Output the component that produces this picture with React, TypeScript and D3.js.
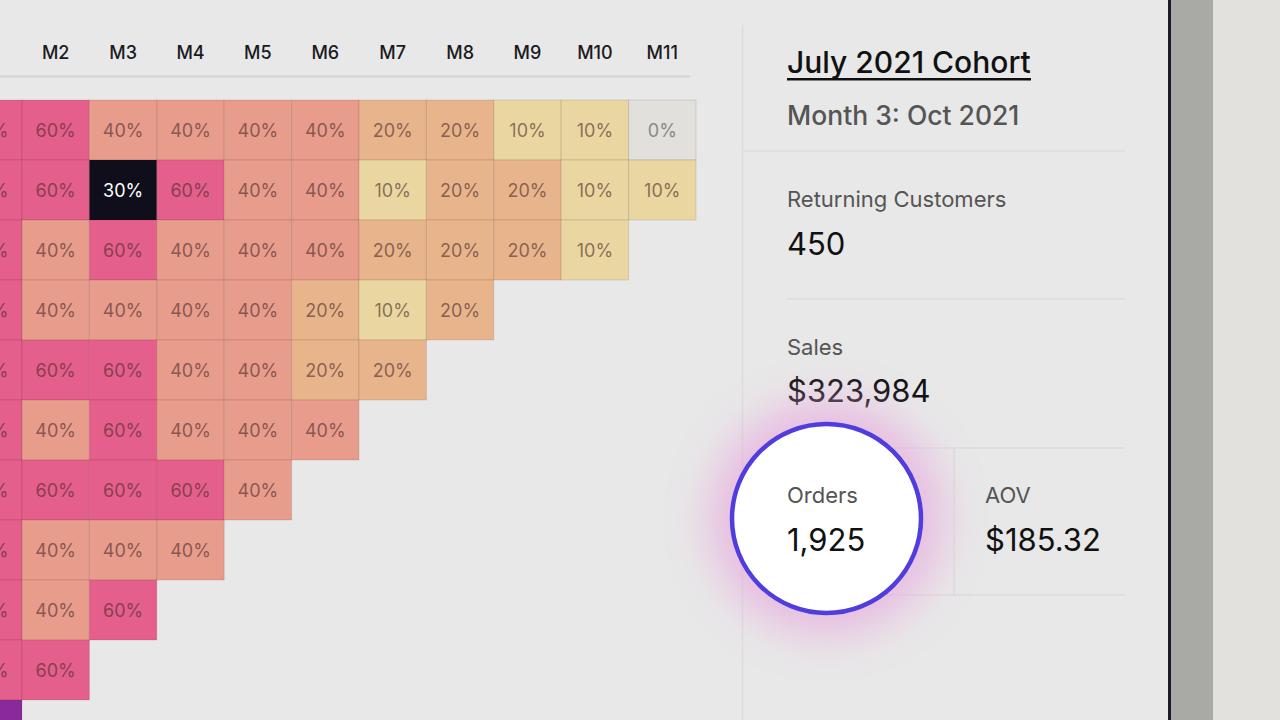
import React from 'react';
import * as d3 from 'd3';

// Retention by cohort row (oldest first) and month since first order.
const months = ['M1', 'M2', 'M3', 'M4', 'M5', 'M6', 'M7', 'M8', 'M9', 'M10', 'M11'];
const retention: number[][] = [
  [60, 60, 40, 40, 40, 40, 20, 20, 10, 10, 0],
  [60, 60, 30, 60, 40, 40, 10, 20, 20, 10, 10],
  [60, 40, 60, 40, 40, 40, 20, 20, 20, 10],
  [60, 40, 40, 40, 40, 20, 10, 20],
  [60, 60, 60, 40, 40, 20, 20],
  [60, 40, 60, 40, 40, 40],
  [60, 60, 60, 60, 40],
  [60, 40, 40, 40],
  [60, 40, 60],
  [60, 60],
  [100],
];
const selectedCell = { row: 1, col: 2 };

const cohortTitle = 'July 2021 Cohort';
const cohortSubtitle = 'Month 3: Oct 2021';
const statLabels = ['Returning Customers', 'Sales', 'Orders', 'AOV'];
const statValues = ['450', '$323,984', '1,925', '$185.32'];

const FONT = 'Inter, "Noto Sans", sans-serif';

const color = d3
  .scaleThreshold<number, string>()
  .domain([5, 15, 30, 50, 80])
  .range(['#e2e0dc', '#e9d6a0', '#e8b48c', '#e89c8c', '#e45f8b', '#8a2a9a']);

const App = () => {
  const width = 1280;
  const height = 720;

  const x = d3.scaleBand<string>().domain(months).range([-45.4, 696]).padding(0);
  const y = d3
    .scaleBand<number>()
    .domain(d3.range(retention.length))
    .range([100, 100 + 60 * retention.length])
    .padding(0);

  const cells = retention.flatMap((row, r) =>
    row.map((v, c) => ({ r, c, v, selected: r === selectedCell.row && c === selectedCell.col }))
  );

  const px = 787;
  const labelStyle = { fontSize: 22, fill: '#555' };
  const valueStyle = { fontSize: 31, fill: '#111' };

  return (
    <svg
      width={width}
      height={height}
      style={{ position: 'absolute', left: 0, top: 0, background: '#e8e8e8' }}
      fontFamily={FONT}
    >
      <defs>
        <filter id="glow" x="-60%" y="-60%" width="220%" height="220%">
          <feGaussianBlur stdDeviation="22" />
        </filter>
      </defs>

      {/* month header */}
      {months.map((m) => (
        <text
          key={m}
          x={(x(m) ?? 0) + x.bandwidth() / 2}
          y={59}
          textAnchor="middle"
          fontSize={18}
          fontWeight={500}
          fill="#1b1b1f"
        >
          {m}
        </text>
      ))}
      <line x1={0} x2={690} y1={76.5} y2={76.5} stroke="#d3d3d3" strokeWidth={2} />

      {/* heatmap cells */}
      {cells.map((d) => {
        const cx = x(months[d.c]) ?? 0;
        const cy = y(d.r) ?? 0;
        return (
          <g key={`${d.r}-${d.c}`}>
            <rect
              x={cx}
              y={cy}
              width={x.bandwidth()}
              height={y.bandwidth()}
              fill={d.selected ? '#0f0e1a' : color(d.v)}
              stroke="rgba(60,20,20,0.12)"
              strokeWidth={1}
            />
            <text
              x={cx + x.bandwidth() / 2}
              y={cy + y.bandwidth() / 2 + 6.5}
              textAnchor="middle"
              fontSize={18}
              fill={d.selected ? '#ffffff' : d.v === 0 ? '#8a8886' : '#4a2a2a'}
              fillOpacity={d.selected || d.v === 0 ? 1 : 0.62}
            >
              {`${d.v}%`}
            </text>
          </g>
        );
      })}

      {/* side panel */}
      <line x1={742.5} x2={742.5} y1={25} y2={720} stroke="#dcdcdc" strokeWidth={1.5} />
      <text x={px} y={73} fontSize={30} fontWeight={500} fill="#111">
        {cohortTitle}
      </text>
      <rect x={px} y={78} width={244} height={2.5} fill="#111" />
      <text x={px} y={125} fontSize={26.5} fontWeight={500} fill="#555">
        {cohortSubtitle}
      </text>
      <line x1={742} x2={1125} y1={151} y2={151} stroke="#dcdcdc" strokeWidth={1.5} />

      <text x={px} y={207} {...labelStyle}>
        {statLabels[0]}
      </text>
      <text x={px} y={255} {...valueStyle}>
        {statValues[0]}
      </text>
      <line x1={px} x2={1125} y1={299} y2={299} stroke="#dcdcdc" strokeWidth={1.5} />

      <text x={px} y={355} {...labelStyle}>
        {statLabels[1]}
      </text>
      <text x={px} y={402} {...valueStyle}>
        {statValues[1]}
      </text>
      <line x1={px} x2={1125} y1={448} y2={448} stroke="#dcdcdc" strokeWidth={1.5} />
      <line x1={954} x2={954} y1={448} y2={595} stroke="#dcdcdc" strokeWidth={1.5} />
      <line x1={px} x2={1125} y1={595} y2={595} stroke="#dcdcdc" strokeWidth={1.5} />

      {/* highlight on the orders stat */}
      <circle cx={826.5} cy={518.5} r={116} fill="#e8a6de" opacity={0.7} filter="url(#glow)" />
      <circle cx={826.5} cy={518.5} r={94.5} fill="#ffffff" stroke="#4f3de0" strokeWidth={4.5} />

      <text x={px} y={503} {...labelStyle}>
        {statLabels[2]}
      </text>
      <text x={px} y={551} {...valueStyle}>
        {statValues[2]}
      </text>
      <text x={985} y={503} {...labelStyle}>
        {statLabels[3]}
      </text>
      <text x={985} y={551} {...valueStyle}>
        {statValues[3]}
      </text>

      {/* window edge */}
      <rect x={1168} y={0} width={3} height={height} fill="#1c1c28" />
      <rect x={1171} y={0} width={42} height={height} fill="#a9a9a5" />
      <rect x={1213} y={0} width={67} height={height} fill="#e2e1de" />
    </svg>
  );
};

export default App;
